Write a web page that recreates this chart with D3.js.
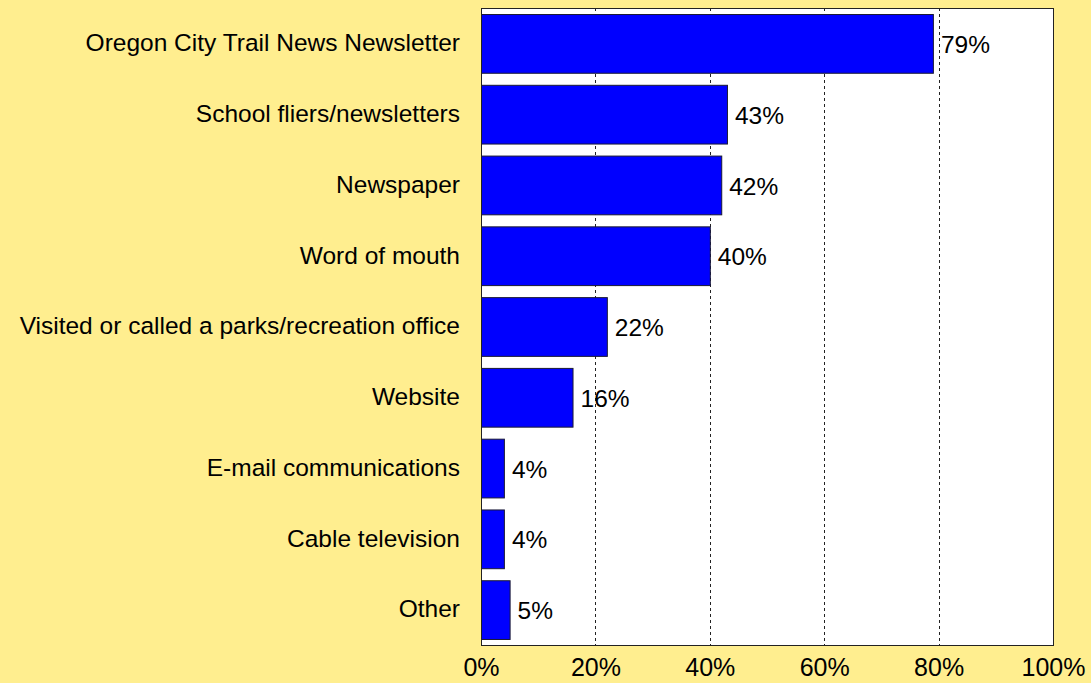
<!DOCTYPE html>
<html>
<head>
<meta charset="utf-8">
<script src="https://cdn.jsdelivr.net/npm/d3@7"></script>
<style>
  html, body { margin: 0; padding: 0; background: #FFEE8F; }
  svg { display: block; }
  text { font-family: "Liberation Sans", Arial, sans-serif; fill: #000; }
</style>
</head>
<body>
<svg id="chart" width="1091" height="683"></svg>
<script>
// Sources of information about recreation programs (share of respondents)
const categories = [
  "Oregon City Trail News Newsletter",
  "School fliers/newsletters",
  "Newspaper",
  "Word of mouth",
  "Visited or called a parks/recreation office",
  "Website",
  "E-mail communications",
  "Cable television",
  "Other"
];
const values = [79, 43, 42, 40, 22, 16, 4, 4, 5];
const tickValues = [0, 20, 40, 60, 80, 100];

const svg = d3.select("#chart");
const margin = { left: 481, right: 38, top: 8, bottom: 38 };
const W = 1091, H = 683;
const plotW = W - margin.left - margin.right;
const plotH = H - margin.top - margin.bottom;

const x = d3.scaleLinear().domain([0, 100]).range([0, plotW]);
const y = d3.scaleBand().domain(categories).range([0, plotH])
  .paddingInner(0.17).paddingOuter(0.085);

const g = svg.append("g").attr("transform", `translate(${margin.left},${margin.top})`);

// plot background
g.append("rect").attr("width", plotW).attr("height", plotH).attr("fill", "#fff");

// dashed vertical gridlines
g.append("g").selectAll("line")
  .data(tickValues.filter(t => t > 0 && t < 100))
  .join("line")
  .attr("x1", d => Math.round(x(d)) + 0.5).attr("x2", d => Math.round(x(d)) + 0.5)
  .attr("y1", 0).attr("y2", plotH)
  .attr("stroke", "#222").attr("stroke-width", 1).attr("stroke-dasharray", "3,3");

// bars
g.append("g").selectAll("rect")
  .data(categories.map((c, i) => ({ c, v: values[i] })))
  .join("rect")
  .attr("x", 0.5)
  .attr("y", d => y(d.c) + 0.5)
  .attr("width", d => x(d.v))
  .attr("height", y.bandwidth())
  .attr("fill", "#0000FF")
  .attr("stroke", "#1a1a33").attr("stroke-width", 1);

// value labels
g.append("g").selectAll("text")
  .data(categories.map((c, i) => ({ c, v: values[i] })))
  .join("text")
  .attr("x", d => x(d.v) + 8)
  .attr("y", d => y(d.c) + y.bandwidth() / 2 + 1)
  .attr("dy", "0.35em")
  .attr("font-size", 24.5)
  .text(d => d.v + "%");

// plot frame
g.append("rect").attr("x", 0.5).attr("y", 0.5).attr("width", plotW).attr("height", plotH)
  .attr("fill", "none").attr("stroke", "#222").attr("stroke-width", 1);

// category axis
const yAxis = g.append("g").call(d3.axisLeft(y).tickSize(0).tickPadding(21));
yAxis.select(".domain").remove();
yAxis.selectAll("text").attr("font-size", 24.5).attr("font-family", null).attr("fill", "#000");

// value axis
const xAxis = g.append("g").attr("transform", `translate(0,${plotH})`)
  .call(d3.axisBottom(x).tickValues(tickValues).tickFormat(d => d + "%").tickSize(0).tickPadding(13));
xAxis.select(".domain").remove();
xAxis.selectAll("text").attr("font-size", 25).attr("font-family", null).attr("fill", "#000");
</script>
</body>
</html>
